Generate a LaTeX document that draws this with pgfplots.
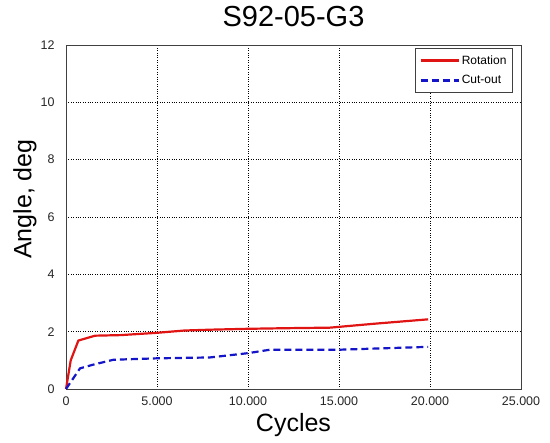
\documentclass[border=0pt]{standalone}
\usepackage{pgfplots}
\pgfplotsset{compat=1.18}
\usepackage{fontspec}
\setmainfont{Liberation Sans}
\definecolor{myred}{RGB}{225,20,20}
\definecolor{myblue}{RGB}{20,20,200}
\begin{document}
\begin{tikzpicture}
\begin{axis}[
  scale only axis, width=455pt, height=344pt,
  xmin=0, xmax=25000, ymin=0, ymax=12,
  xtick={0,5000,10000,15000,20000,25000},
  ytick={0,2,4,6,8,10,12},
  scaled x ticks=false,
  /pgf/number format/assume math mode=true,
  xticklabel style={/pgf/number format/1000 sep={.}, yshift=-4pt},
  yticklabel style={xshift=-8pt},
  tick label style={font=\fontsize{12.5}{14}\selectfont, text=black!85},
  major tick length=0pt,
  grid=major,
  major grid style={black, dotted, line width=0.6pt},
  axis line style={draw=black!75, line width=0.8pt},
  clip=false,
  title={S92-05-G3},
  title style={font=\fontsize{29}{32}\selectfont, at={(axis description cs:0.5,1.035)}, anchor=base},
  xlabel={Cycles},
  xlabel style={font=\fontsize{25}{28}\selectfont, at={(axis description cs:0.5,-0.125)}, anchor=base},
  ylabel={Angle, deg},
  ylabel style={font=\fontsize{25}{28}\selectfont, at={(axis description cs:-0.057,0.552)}, anchor=south, rotate=0},
  legend style={at={(axis description cs:0.982,0.991)}, anchor=north east, draw=black!75, line width=0.6pt, fill=white, font=\fontsize{12}{14}\selectfont, inner xsep=4pt, inner ysep=5pt, row sep=6pt},
  legend cell align=left,
  legend image code/.code={\draw[#1] (0pt,0pt) -- (38pt,0pt);},
]
\addplot[myred, line width=2.2pt] coordinates {
(0,0) (260,1.0) (680,1.69) (1600,1.86) (3000,1.88) (5000,1.96) (6500,2.04) (8000,2.07) (10000,2.1) (12000,2.12) (14500,2.14) (17000,2.28) (19900,2.43)};
\addlegendentry{Rotation}
\addplot[myblue, line width=2.2pt, dash pattern=on 7pt off 4pt] coordinates {
(0,0) (770,0.72) (1500,0.85) (2600,1.02) (5000,1.07) (7900,1.1) (10000,1.25) (11200,1.37) (15000,1.37) (19900,1.47)};
\addlegendentry{Cut-out}
\path (axis description cs:-0.14505,-0.15698) rectangle (axis description cs:1.06374,1.13081);
\end{axis}
\end{tikzpicture}
\end{document}
